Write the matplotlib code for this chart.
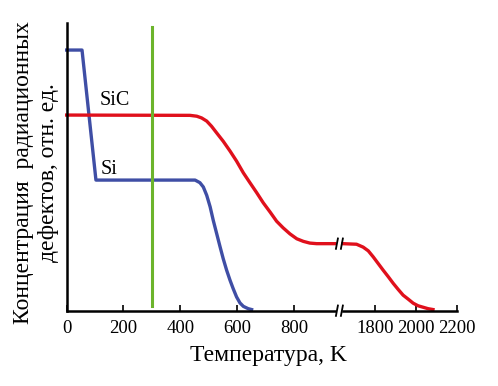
import numpy as np
import matplotlib
matplotlib.use("Agg")
import matplotlib.pyplot as plt

# ---- data ----
si_T = [0, 54, 103, 434, 452, 469, 481, 493, 505, 516, 528, 540, 551, 563, 575,
        586, 598, 610, 622, 639, 651]
si_c = [0.906, 0.906, 0.454, 0.454, 0.454, 0.445, 0.430, 0.401, 0.361, 0.314, 0.268,
        0.222, 0.181, 0.141, 0.106, 0.077, 0.048, 0.027, 0.015, 0.007, 0.004]

sic_T_low = [0, 434, 458, 475, 493, 510, 528, 551, 575, 598, 622, 645, 669, 692, 716,
             739, 762, 786, 810, 833, 856, 880, 944]
sic_c_low = [0.680, 0.679, 0.676, 0.670, 0.659, 0.641, 0.618, 0.589, 0.555, 0.520, 0.479,
             0.445, 0.410, 0.375, 0.343, 0.311, 0.288, 0.267, 0.250, 0.241, 0.235, 0.233, 0.233]
sic_T_high = [1645, 1711, 1743, 1768, 1792, 1816, 1840, 1865, 1889, 1913, 1937, 1962,
              1986, 2010, 2034, 2058, 2082]
sic_c_high = [0.233, 0.231, 0.221, 0.208, 0.187, 0.164, 0.141, 0.118, 0.095, 0.074, 0.054,
              0.040, 0.026, 0.017, 0.012, 0.007, 0.004]

T_mark = 300
xticks = [0, 200, 400, 600, 800, 1800, 2000, 2200]
xticklabels = ["0", "200", "400", "600", "800", "1800", "2000", "2200"]

# broken axis scale
bx = np.array([-10000.0, 0.0, 944.0, 1645.0, 2200.0, 10000.0])
bp = np.array([-2841.0, 0.0, 268.2, 276.3, 390.7, 390.7 + 7800 * 0.2062])

def fwd(x):
    return np.interp(x, bx, bp)

def inv(p):
    return np.interp(p, bp, bx)

plt.rcParams['font.family'] = ['Liberation Serif', 'DejaVu Serif']

fig = plt.figure(figsize=(4.98, 3.86), dpi=100)
ax = fig.add_axes([0.1339, 0.1951, 0.7844, 0.7453])
ax.set_xscale('function', functions=(fwd, inv))
ax.set_xlim(0, 2200)
ax.set_ylim(0, 1)

red = '#e0101c'
blue = '#3f4ea5'
green = '#6cb42c'

ax.plot(si_T, si_c, color=blue, lw=2.4, solid_joinstyle='round', clip_on=False)
ax.plot(sic_T_low, sic_c_low, color=red, lw=2.4, solid_joinstyle='round', clip_on=False)
ax.plot(sic_T_high, sic_c_high, color=red, lw=2.4, solid_joinstyle='round', clip_on=False)
ax.plot([T_mark, T_mark], [0.017, 0.986], color=green, lw=2.2)

ax.text(170, 0.729, "SiC", fontsize=14.5, ha='center', va='center')
ax.text(149, 0.492, "Si", fontsize=14.5, ha='center', va='center')

# spines
for s in ['top', 'right', 'bottom']:
    ax.spines[s].set_visible(False)
ax.spines['left'].set_linewidth(1.8)
ax.set_yticks([])

# bottom axis with break
ax.plot([0, 944], [0, 0], color='black', lw=1.8, clip_on=False)
ax.plot([1645, 2200], [0, 0], color='black', lw=1.8, clip_on=False)
for xa, xb in [(1040, 1210), (1470, 1640)]:
    ax.plot([xa, xb], [-0.018, 0.018], color='black', lw=1.3, clip_on=False)
    ax.plot([xa, xb], [0.233 - 0.018, 0.233 + 0.018], color='black', lw=1.3, clip_on=False)

ax.set_xticks(xticks)
ax.set_xticklabels(xticklabels, fontsize=13.5)
ax.tick_params(axis='x', direction='in', length=4, width=1.2, pad=7)
ax.xaxis.set_minor_locator(matplotlib.ticker.NullLocator())

fig.text(0.539, 0.080, "Температура, K", fontsize=17, ha='center', va='center')
fig.text(0.073, 0.554, "Концентрация  радиационных\nдефектов, отн. ед.", fontsize=17,
         rotation=90, ha='center', va='center', multialignment='center', linespacing=1.25)

fig.savefig("out.png", dpi=100)
